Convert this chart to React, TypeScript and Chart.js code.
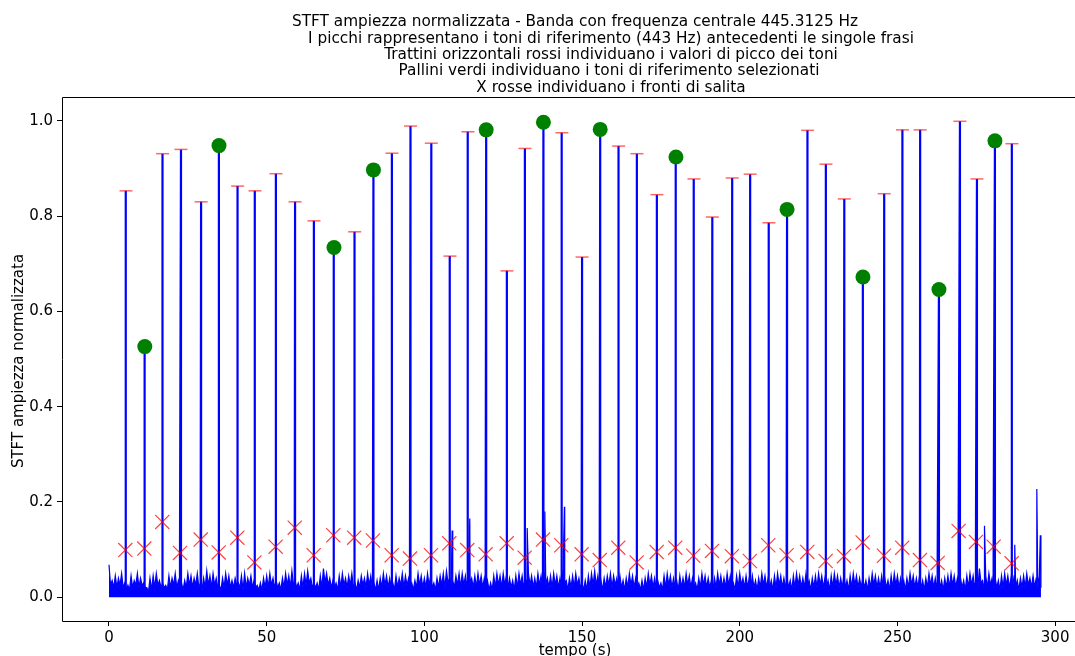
import React, { useEffect, useRef } from "react";
import { Chart, registerables } from "chart.js";

Chart.register(...registerables);

// Upper noise level of the band magnitude, one value per second (t = 0 … 295 s)
const noiseLevel: number[] = [
  0.068, 0.035, 0.045, 0.04, 0.05, 0.03, 0.025, 0.045, 0.035, 0.05,
  0.04, 0.03, 0.02, 0.04, 0.045, 0.05, 0.035, 0.03, 0.025, 0.045,
  0.04, 0.05, 0.035, 0.03, 0.035, 0.05, 0.045, 0.04, 0.05, 0.03,
  0.04, 0.055, 0.045, 0.05, 0.04, 0.025, 0.04, 0.05, 0.045, 0.035,
  0.04, 0.03, 0.045, 0.05, 0.04, 0.045, 0.035, 0.025, 0.03, 0.04,
  0.045, 0.05, 0.04, 0.035, 0.03, 0.04, 0.05, 0.045, 0.055, 0.035,
  0.03, 0.045, 0.05, 0.055, 0.04, 0.03, 0.03, 0.045, 0.06, 0.05,
  0.04, 0.035, 0.03, 0.045, 0.05, 0.04, 0.045, 0.05, 0.03, 0.035,
  0.045, 0.04, 0.05, 0.045, 0.03, 0.035, 0.04, 0.05, 0.045, 0.04,
  0.03, 0.045, 0.04, 0.05, 0.045, 0.04, 0.03, 0.035, 0.05, 0.045,
  0.04, 0.05, 0.045, 0.03, 0.04, 0.045, 0.05, 0.055, 0.04, 0.035,
  0.045, 0.05, 0.05, 0.045, 0.06, 0.04, 0.045, 0.05, 0.045, 0.04,
  0.035, 0.03, 0.045, 0.05, 0.045, 0.05, 0.045, 0.04, 0.035, 0.045,
  0.05, 0.045, 0.04, 0.05, 0.045, 0.04, 0.05, 0.045, 0.05, 0.04,
  0.045, 0.05, 0.045, 0.04, 0.06, 0.035, 0.04, 0.045, 0.05, 0.04,
  0.03, 0.035, 0.045, 0.05, 0.055, 0.045, 0.035, 0.04, 0.045, 0.05,
  0.045, 0.04, 0.045, 0.035, 0.04, 0.05, 0.045, 0.04, 0.03, 0.035,
  0.04, 0.05, 0.045, 0.04, 0.035, 0.03, 0.045, 0.05, 0.045, 0.04,
  0.035, 0.045, 0.04, 0.05, 0.045, 0.04, 0.03, 0.04, 0.05, 0.045,
  0.04, 0.035, 0.04, 0.05, 0.045, 0.04, 0.05, 0.045, 0.03, 0.045,
  0.05, 0.04, 0.045, 0.04, 0.045, 0.035, 0.04, 0.05, 0.045, 0.04,
  0.035, 0.045, 0.05, 0.045, 0.04, 0.04, 0.035, 0.045, 0.05, 0.045,
  0.04, 0.05, 0.035, 0.04, 0.045, 0.05, 0.045, 0.04, 0.035, 0.045,
  0.05, 0.045, 0.04, 0.045, 0.035, 0.045, 0.05, 0.045, 0.04, 0.04,
  0.035, 0.04, 0.05, 0.045, 0.04, 0.045, 0.04, 0.035, 0.045, 0.05,
  0.045, 0.04, 0.035, 0.04, 0.05, 0.045, 0.04, 0.045, 0.035, 0.04,
  0.05, 0.045, 0.04, 0.045, 0.035, 0.04, 0.045, 0.05, 0.045, 0.04,
  0.04, 0.035, 0.045, 0.05, 0.045, 0.04, 0.06, 0.035, 0.045, 0.05,
  0.04, 0.04, 0.035, 0.045, 0.05, 0.045, 0.04, 0.045, 0.035, 0.04,
  0.045, 0.05, 0.04, 0.045, 0.04, 0.045,
];

// Lower noise level between the samples above (t = 0.5 … 295.5 s)
const noiseFloor: number[] = [
  0.025, 0.02, 0.02, 0.025, 0.02, 0.015, 0.015, 0.02, 0.025, 0.02,
  0.025, 0.02, 0.01, 0.015, 0.02, 0.025, 0.02, 0.02, 0.015, 0.02,
  0.025, 0.02, 0.02, 0.015, 0.02, 0.025, 0.02, 0.025, 0.02, 0.015,
  0.02, 0.025, 0.02, 0.025, 0.02, 0.015, 0.02, 0.025, 0.02, 0.02,
  0.025, 0.02, 0.015, 0.02, 0.025, 0.02, 0.02, 0.015, 0.015, 0.02,
  0.02, 0.025, 0.02, 0.02, 0.015, 0.02, 0.025, 0.02, 0.025, 0.02,
  0.015, 0.02, 0.025, 0.03, 0.02, 0.02, 0.015, 0.02, 0.03, 0.025,
  0.02, 0.02, 0.015, 0.02, 0.025, 0.02, 0.025, 0.02, 0.015, 0.02,
  0.025, 0.02, 0.025, 0.02, 0.015, 0.015, 0.02, 0.025, 0.02, 0.02,
  0.015, 0.02, 0.025, 0.02, 0.025, 0.02, 0.015, 0.02, 0.025, 0.02,
  0.02, 0.025, 0.02, 0.015, 0.02, 0.025, 0.02, 0.03, 0.025, 0.02,
  0.025, 0.02, 0.025, 0.02, 0.03, 0.02, 0.02, 0.025, 0.02, 0.02,
  0.015, 0.015, 0.02, 0.025, 0.02, 0.025, 0.02, 0.02, 0.015, 0.02,
  0.025, 0.02, 0.02, 0.025, 0.02, 0.02, 0.025, 0.02, 0.025, 0.02,
  0.02, 0.025, 0.02, 0.02, 0.03, 0.015, 0.02, 0.02, 0.025, 0.02,
  0.015, 0.015, 0.02, 0.025, 0.025, 0.02, 0.015, 0.02, 0.025, 0.02,
  0.025, 0.02, 0.02, 0.015, 0.02, 0.025, 0.02, 0.02, 0.015, 0.015,
  0.02, 0.025, 0.02, 0.02, 0.02, 0.015, 0.02, 0.025, 0.02, 0.02,
  0.015, 0.02, 0.02, 0.025, 0.02, 0.02, 0.015, 0.02, 0.025, 0.02,
  0.02, 0.015, 0.02, 0.025, 0.02, 0.02, 0.025, 0.02, 0.015, 0.02,
  0.025, 0.02, 0.02, 0.02, 0.02, 0.015, 0.02, 0.025, 0.02, 0.02,
  0.015, 0.02, 0.025, 0.02, 0.02, 0.02, 0.015, 0.02, 0.025, 0.02,
  0.02, 0.025, 0.015, 0.02, 0.02, 0.025, 0.02, 0.02, 0.015, 0.02,
  0.025, 0.02, 0.02, 0.02, 0.015, 0.02, 0.025, 0.02, 0.02, 0.02,
  0.015, 0.02, 0.025, 0.02, 0.02, 0.02, 0.02, 0.015, 0.02, 0.025,
  0.02, 0.02, 0.015, 0.02, 0.025, 0.02, 0.02, 0.02, 0.015, 0.02,
  0.025, 0.02, 0.02, 0.02, 0.015, 0.02, 0.02, 0.025, 0.02, 0.02,
  0.02, 0.015, 0.02, 0.025, 0.02, 0.02, 0.03, 0.015, 0.02, 0.025,
  0.02, 0.02, 0.015, 0.02, 0.025, 0.02, 0.02, 0.02, 0.015, 0.02,
  0.02, 0.025, 0.02, 0.02, 0.02, 0.02,
];

// Reference-tone peaks: time (s) and normalized magnitude
const peakTimes: number[] = [
  5.39, 11.35, 17.0, 22.83, 29.2, 34.88, 40.8, 46.29, 52.95, 59.0,
  65.0, 71.34, 77.9, 83.85, 89.73, 95.6, 102.2, 108.12, 113.82, 119.6,
  126.19, 131.9, 137.75, 143.6, 150.0, 155.75, 161.6, 167.41, 173.75, 179.77,
  185.48, 191.3, 197.6, 203.3, 209.26, 215.0, 221.5, 227.33, 233.15, 239.06,
  245.8, 251.6, 257.2, 263.16, 269.82, 275.21, 280.91, 286.3,
];
const peakValues: number[] = [
  0.853, 0.526, 0.931, 0.94, 0.83, 0.948, 0.863, 0.853, 0.889, 0.83,
  0.79, 0.734, 0.767, 0.897, 0.932, 0.989, 0.953, 0.716, 0.977, 0.981,
  0.685, 0.942, 0.997, 0.975, 0.714, 0.982, 0.947, 0.931, 0.845, 0.924,
  0.878, 0.798, 0.88, 0.888, 0.786, 0.814, 0.98, 0.909, 0.836, 0.672,
  0.847, 0.981, 0.981, 0.646, 0.999, 0.878, 0.958, 0.952,
];

// Rising fronts detected before each tone
const frontTimes: number[] = [
  5.17, 11.19, 16.9, 22.51, 29.07, 34.78, 40.68, 46.1, 52.85, 58.9,
  64.9, 71.12, 77.75, 83.7, 89.63, 95.43, 102.09, 107.89, 113.6, 119.43,
  126.09, 131.8, 137.6, 143.41, 149.87, 155.6, 161.48, 167.31, 173.65, 179.55,
  185.26, 191.19, 197.5, 203.2, 209.04, 214.87, 221.4, 227.24, 233.04, 238.97,
  245.72, 251.52, 257.13, 262.75, 269.4, 274.89, 280.5, 286.21,
];
const frontValues: number[] = [
  0.099, 0.102, 0.158, 0.093, 0.121, 0.094, 0.125, 0.073, 0.106, 0.146,
  0.088, 0.13, 0.125, 0.119, 0.088, 0.081, 0.088, 0.113, 0.099, 0.09,
  0.113, 0.083, 0.121, 0.109, 0.09, 0.078, 0.104, 0.073, 0.095, 0.104,
  0.087, 0.097, 0.086, 0.076, 0.109, 0.088, 0.095, 0.076, 0.086, 0.115,
  0.087, 0.104, 0.078, 0.072, 0.139, 0.116, 0.106, 0.071,
];

// Indices of the selected reference tones
const selectedTones: number[] = [1, 5, 11, 13, 19, 22, 25, 29, 35, 39, 43, 46];

// Secondary bursts in the band (time, magnitude)
const burstTimes: number[] = [108.8, 114.4, 132.6, 138.2, 144.4, 277.6, 287.2, 294.2, 295.3];
const burstValues: number[] = [0.14, 0.165, 0.145, 0.18, 0.19, 0.15, 0.11, 0.227, 0.13];

const xTicks: number[] = [0, 50, 100, 150, 200, 250, 300];
const yTicks: number[] = [0.0, 0.2, 0.4, 0.6, 0.8, 1.0];

const titleLines: string[] = [
  "STFT ampiezza normalizzata - Banda con frequenza centrale 445.3125 Hz",
  "I picchi rappresentano i toni di riferimento (443 Hz) antecedenti le singole frasi",
  "Trattini orizzontali rossi individuano i valori di picco dei toni",
  "Pallini verdi individuano i toni di riferimento selezionati",
  "X rosse individuano i fronti di salita",
];

const FONT = "'DejaVu Sans', sans-serif";

export default function App() {
  const canvasRef = useRef<HTMLCanvasElement | null>(null);

  useEffect(() => {
    const canvas = canvasRef.current;
    if (!canvas) return;

    // background band: alternating upper / lower noise samples plus short bursts
    const band: { x: number; y: number }[] = [];
    noiseLevel.forEach((v, i) => band.push({ x: i, y: v }));
    noiseFloor.forEach((v, i) => band.push({ x: i + 0.5, y: v }));
    burstTimes.forEach((t, i) => band.push({ x: t, y: burstValues[i] }));
    band.sort((a, b) => a.x - b.x);

    // tone strokes: from the band level, through the rising front, up to the peak
    const tones: { x: number; y: number | null }[] = [];
    peakTimes.forEach((t, i) => {
      const base = noiseFloor[Math.floor(t)];
      tones.push({ x: frontTimes[i], y: base });
      tones.push({ x: frontTimes[i], y: frontValues[i] });
      tones.push({ x: t, y: peakValues[i] });
      tones.push({ x: t, y: base });
      tones.push({ x: t, y: null });
    });

    const peaks = peakTimes.map((t, i) => ({ x: t, y: peakValues[i] }));
    const selected = selectedTones.map((i) => ({ x: peakTimes[i], y: peakValues[i] }));
    const fronts = frontTimes.map((t, i) => ({ x: t, y: frontValues[i] }));

    const decorations = {
      id: "decorations",
      afterDraw(chart: any) {
        const { ctx, chartArea } = chart;
        const { left, top, right, bottom } = chartArea;
        ctx.save();
        // frame
        ctx.strokeStyle = "#000";
        ctx.lineWidth = 1;
        ctx.beginPath();
        ctx.moveTo(left + 0.5, bottom + 0.5);
        ctx.lineTo(left + 0.5, top + 0.5);
        ctx.lineTo(right + 0.5, top + 0.5);
        ctx.lineTo(right + 0.5, bottom + 0.5);
        ctx.lineTo(left + 0.5, bottom + 0.5);
        ctx.stroke();
        // title block
        ctx.fillStyle = "#000";
        ctx.textAlign = "center";
        ctx.textBaseline = "middle";
        ctx.font = `15.3px ${FONT}`;
        const centers = [575, 611, 611, 609, 611];
        titleLines.forEach((line, i) => {
          ctx.fillText(line, centers[i], 22.5 + i * 16.3);
        });
        // axis titles
        ctx.font = `15px ${FONT}`;
        ctx.textBaseline = "top";
        ctx.fillText("tempo (s)", 575, 644);
        ctx.save();
        ctx.translate(19, (top + bottom) / 2 + 2);
        ctx.rotate(-Math.PI / 2);
        ctx.textBaseline = "middle";
        ctx.fillText("STFT ampiezza normalizzata", 0, 0);
        ctx.restore();
        ctx.restore();
      },
    };

    const chart = new Chart(canvas, {
      type: "line",
      data: {
        datasets: [
          {
            label: "fronti",
            data: fronts,
            showLine: false,
            pointStyle: "crossRot",
            pointRadius: 10,
            pointBorderWidth: 1.2,
            pointBorderColor: "rgba(255,0,0,0.75)",
            pointBackgroundColor: "rgba(255,0,0,0.75)",
            order: 1,
          },
          {
            label: "selezionati",
            data: selected,
            showLine: false,
            pointStyle: "circle",
            pointRadius: 7.5,
            pointBorderWidth: 0,
            pointBackgroundColor: "#008000",
            pointBorderColor: "#008000",
            order: 2,
          },
          {
            label: "picchi",
            data: peaks,
            showLine: false,
            pointStyle: "line",
            pointRadius: 6.5,
            pointBorderWidth: 1.5,
            pointBorderColor: "rgba(255,0,0,0.6)",
            order: 3,
          },
          {
            label: "toni",
            data: tones,
            borderColor: "#0000ff",
            borderWidth: 2.2,
            pointRadius: 0,
            tension: 0,
            spanGaps: false,
            fill: false,
            order: 4,
          },
          {
            label: "STFT",
            data: band,
            borderColor: "#0000ff",
            backgroundColor: "#0000ff",
            borderWidth: 1.2,
            pointRadius: 0,
            tension: 0,
            fill: "origin",
            order: 5,
          },
        ],
      },
      options: {
        responsive: false,
        animation: false,
        devicePixelRatio: 1,
        parsing: false,
        layout: { autoPadding: false, padding: { top: 97, left: 0, right: 0, bottom: 0 } },
        plugins: {
          legend: { display: false },
          tooltip: { enabled: false },
          title: { display: false },
        },
        scales: {
          x: {
            type: "linear",
            min: -14.9,
            max: 306.3,
            afterFit: (scale: any) => {
              scale.height = 35;
              scale.paddingLeft = 0;
              scale.paddingRight = 0;
            },
            afterBuildTicks: (scale: any) => {
              scale.ticks = xTicks.map((v) => ({ value: v }));
            },
            ticks: {
              includeBounds: false,
              font: { family: FONT, size: 15 },
              color: "#000",
              padding: 3,
              maxRotation: 0,
              callback: (v: any) => String(v),
            },
            grid: {
              drawOnChartArea: false,
              drawTicks: true,
              tickLength: 5,
              tickColor: "#000",
              tickWidth: 1,
            },
            border: { display: false },
          },
          y: {
            type: "linear",
            min: -0.05,
            max: 1.05,
            afterFit: (scale: any) => {
              scale.width = 62;
              scale.paddingTop = 0;
              scale.paddingBottom = 0;
            },
            afterBuildTicks: (scale: any) => {
              scale.ticks = yTicks.map((v) => ({ value: v }));
            },
            ticks: {
              includeBounds: false,
              font: { family: FONT, size: 15 },
              color: "#000",
              padding: 4,
              callback: (v: any) => Number(v).toFixed(1),
            },
            grid: {
              drawOnChartArea: false,
              drawTicks: true,
              tickLength: 5,
              tickColor: "#000",
              tickWidth: 1,
            },
            border: { display: false },
          },
        },
      },
      plugins: [decorations],
    } as any);

    return () => chart.destroy();
  }, []);

  return (
    <div style={{ position: "fixed", left: 0, top: 0, width: 1075, height: 656, background: "#fff" }}>
      <canvas ref={canvasRef} width={1075} height={656} style={{ display: "block" }} />
    </div>
  );
}
